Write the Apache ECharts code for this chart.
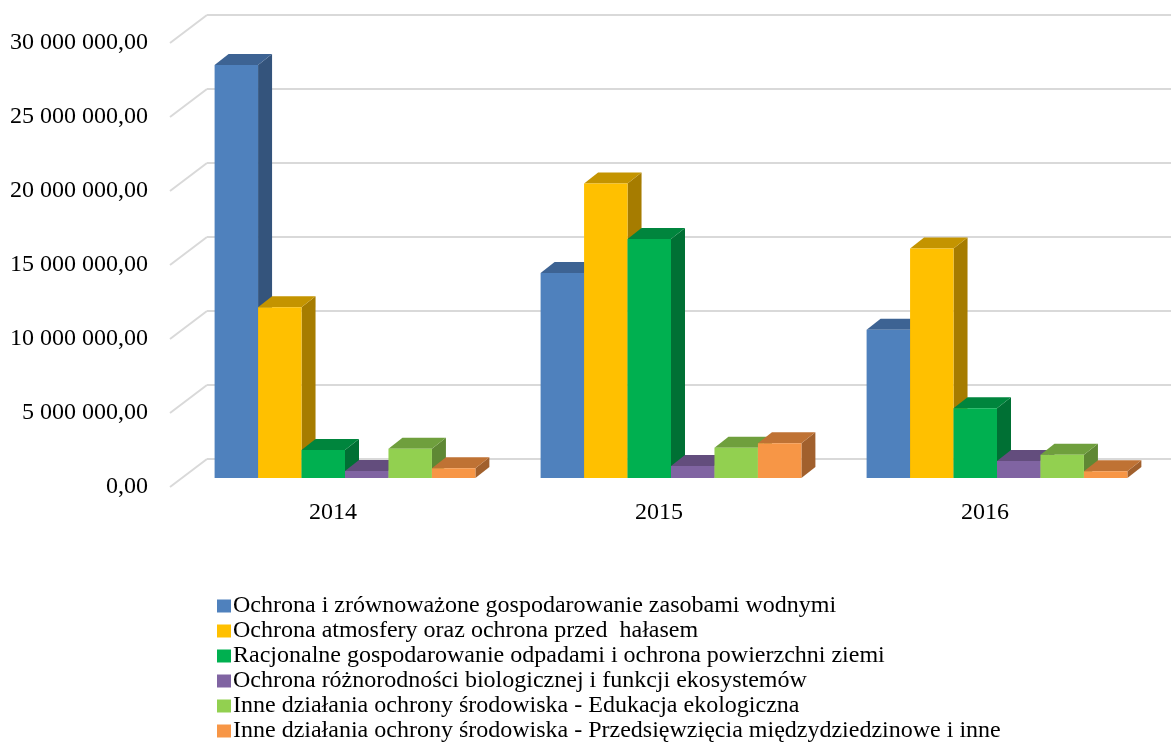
<!DOCTYPE html>
<html>
<head>
<meta charset="utf-8">
<script src="https://cdn.jsdelivr.net/npm/echarts@6/dist/echarts.min.js"></script>
<style>
html, body { margin: 0; padding: 0; background: #fff; }
#chart { width: 1171px; height: 744px; }
</style>
</head>
<body>
<div id="chart"></div>
<script>
const years = ["2014", "2015", "2016"];

const seriesNames = [
    "Ochrona i zrównoważone gospodarowanie zasobami wodnymi",
    "Ochrona atmosfery oraz ochrona przed  hałasem",
    "Racjonalne gospodarowanie odpadami i ochrona powierzchni ziemi",
    "Ochrona różnorodności biologicznej i funkcji ekosystemów",
    "Inne działania ochrony środowiska - Edukacja ekologiczna",
    "Inne działania ochrony środowiska - Przedsięwzięcia międzydziedzinowe i inne",
];

const waterValues = [27900000, 13850000, 10020000];
const airValues = [11530000, 19900000, 15500000];
const wasteValues = [1890000, 16150000, 4710000];
const bioValues = [470000, 810000, 1150000];
const eduValues = [1970000, 2050000, 1570000];
const otherValues = [660000, 2340000, 450000];

const yTicks = [0, 5000000, 10000000, 15000000, 20000000, 25000000, 30000000];

// front, top, side shades
const palette = [
    ["#4f81bd", "#3d6393", "#34547c"],
    ["#ffc000", "#c49400", "#a67c00"],
    ["#00b050", "#00853d", "#007034"],
    ["#8064a2", "#634d7d", "#54426a"],
    ["#92d050", "#6f9f3d", "#5f8834"],
    ["#f79646", "#bf7234", "#a1602d"],
];

const allValues = [waterValues, airValues, wasteValues, bioValues, eduValues, otherValues];

const DEPTH_X = 14;
const DEPTH_Y = 11;

function formatPl(v) {
    const s = String(Math.round(v)).replace(/\B(?=(\d{3})+(?!\d))/g, " ");
    return s + ",00";
}

function makeBarSeries(idx) {
    const [front, top, side] = palette[idx];
    return {
        type: "custom",
        name: seriesNames[idx],
        xAxisIndex: 1,
        yAxisIndex: 1,
        itemStyle: { color: front },
        encode: { x: 0, y: 1 },
        data: allValues[idx].map((v, i) => [i, v]),
        renderItem(params, api) {
            const catW = api.size([1, 0])[0];
            const bw = (catW * 0.8) / 6;
            const base = api.coord([api.value(0), 0]);
            const tip = api.coord([api.value(0), api.value(1)]);
            const x0 = base[0] - catW * 0.4 + idx * bw;
            const x1 = x0 + bw;
            const y0 = base[1];
            const y1 = tip[1];
            return {
                type: "group",
                children: [
                    {
                        type: "polygon",
                        shape: { points: [[x1, y1], [x1 + DEPTH_X, y1 - DEPTH_Y], [x1 + DEPTH_X, y0 - DEPTH_Y], [x1, y0]] },
                        style: { fill: side },
                    },
                    {
                        type: "polygon",
                        shape: { points: [[x0, y1], [x0 + DEPTH_X, y1 - DEPTH_Y], [x1 + DEPTH_X, y1 - DEPTH_Y], [x1, y1]] },
                        style: { fill: top },
                    },
                    {
                        type: "rect",
                        shape: { x: x0, y: y1, width: bw, height: y0 - y1 },
                        style: { fill: front },
                    },
                ],
            };
        },
    };
}

const chart = echarts.init(document.getElementById("chart"), null, { renderer: "canvas" });

const yBase = { type: "value", min: 0, max: 30000000, interval: 5000000 };

const option = {
    animation: false,
    textStyle: { fontFamily: "Liberation Serif" },
    grid: [
        // back wall
        { left: 207, top: 15, width: 1000, height: 444 },
        // bar front plane
        { left: 182, top: 34, width: 978, height: 444 },
        // front floor edge (labels)
        { left: 170, top: 43, width: 978, height: 444 },
    ],
    xAxis: [
        { type: "category", gridIndex: 0, data: years, show: false },
        { type: "category", gridIndex: 1, data: years, show: false },
        {
            type: "category",
            gridIndex: 2,
            data: years,
            axisLine: { show: false },
            axisTick: { show: false },
            axisLabel: { color: "#000", fontSize: 24, margin: 14, fontFamily: "Liberation Serif" },
        },
    ],
    yAxis: [
        {
            ...yBase,
            gridIndex: 0,
            axisLine: { show: false },
            axisTick: { show: false },
            axisLabel: { show: false },
            splitLine: { show: true, lineStyle: { color: "#d9d9d9", width: 2 } },
        },
        { ...yBase, gridIndex: 1, show: false },
        {
            ...yBase,
            gridIndex: 2,
            axisLine: { show: false },
            axisTick: { show: false },
            splitLine: { show: false },
            axisLabel: {
                color: "#000",
                fontSize: 24,
                margin: 22,
                fontFamily: "Liberation Serif",
                formatter: formatPl,
            },
        },
    ],
    legend: {
        orient: "vertical",
        left: 217,
        top: 594,
        height: 220,
        padding: 0,
        itemWidth: 14,
        itemHeight: 13,
        itemGap: 1,
        icon: "rect",
        data: seriesNames,
        selectedMode: false,
        textStyle: {
            color: "#000",
            fontSize: 24,
            lineHeight: 24,
            fontFamily: "Liberation Serif",
            padding: [0, 0, 0, -3],
        },
    },
    series: [
        {
            // side wall diagonals
            type: "custom",
            name: "walls",
            xAxisIndex: 0,
            yAxisIndex: 0,
            silent: true,
            encode: { y: 0 },
            data: yTicks.map(v => [v]),
            renderItem(params, api) {
                const x = params.coordSys.x;
                const y = api.coord([0, api.value(0)])[1];
                return {
                    type: "line",
                    shape: { x1: x, y1: y, x2: x - 37, y2: y + 28 },
                    style: { stroke: "#d9d9d9", lineWidth: 2 },
                };
            },
        },
        ...seriesNames.map((_, i) => makeBarSeries(i)),
    ],
};

chart.setOption(option);
</script>
</body>
</html>
